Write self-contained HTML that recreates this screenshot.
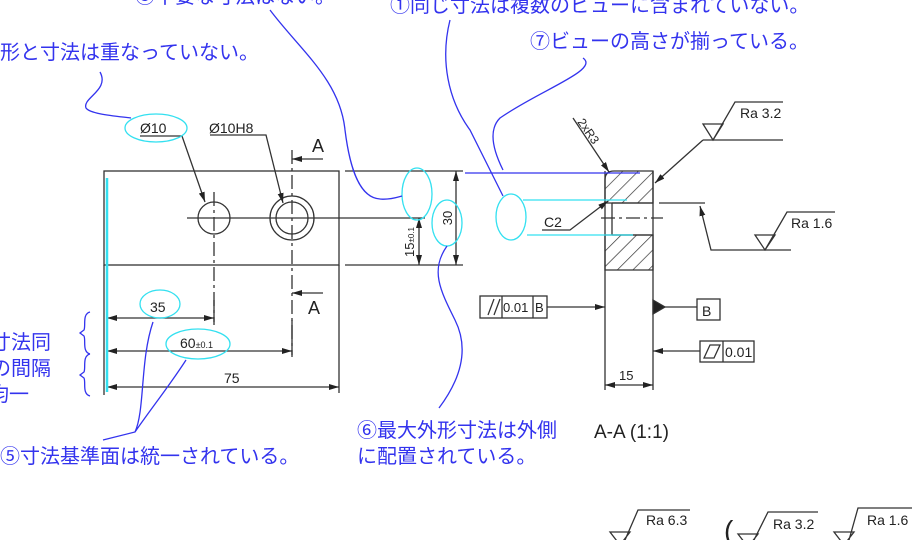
<!DOCTYPE html>
<html><head><meta charset="utf-8"><style>
body{margin:0;background:#fff;}
svg{display:block;}
.b{font-family:"Liberation Sans","Noto Sans CJK JP",sans-serif;fill:#3333ee;font-size:20px;}
.t{font-family:"Liberation Sans",sans-serif;fill:#222;font-size:13px;}
</style></head><body>
<svg width="921" height="540" viewBox="0 0 921 540" xmlns="http://www.w3.org/2000/svg">
<defs>
<marker id="a" markerWidth="10" markerHeight="6" refX="10" refY="3" orient="auto" markerUnits="userSpaceOnUse"><path d="M0,0 L10,3 L0,6z" fill="#222"/></marker>
<pattern id="h" width="11" height="11" patternUnits="userSpaceOnUse" patternTransform="rotate(45)"><line x1="0" y1="0" x2="0" y2="11" stroke="#333" stroke-width="1.4"/></pattern>
</defs>
<g stroke="#333" stroke-width="1.3" fill="none">
<rect x="104" y="171" width="235" height="94"/>
<circle cx="214" cy="218" r="16"/>
<circle cx="292" cy="218" r="22"/><circle cx="292" cy="218" r="16"/>
<line x1="187" y1="218" x2="425" y2="218"/>
<line x1="214" y1="192" x2="214" y2="322" stroke-dasharray="14,4,3,4"/>
<line x1="292" y1="150" x2="292" y2="355" stroke-dasharray="14,4,3,4"/>
<line x1="323" y1="159" x2="292" y2="159" marker-end="url(#a)"/>
<line x1="323" y1="293" x2="292" y2="293" marker-end="url(#a)"/>
<polyline points="140,136 182,136 205,202" marker-end="url(#a)"/>
<polyline points="210,135 266,135 283,203" marker-end="url(#a)"/>
<line x1="345" y1="171" x2="463" y2="171"/><line x1="345" y1="265" x2="463" y2="265"/>
<line x1="456" y1="218" x2="456" y2="171" marker-end="url(#a)"/><line x1="456" y1="218" x2="456" y2="265" marker-end="url(#a)"/>
<line x1="419" y1="240" x2="419" y2="218" marker-end="url(#a)"/><line x1="419" y1="240" x2="419" y2="265" marker-end="url(#a)"/>
<line x1="104" y1="265" x2="104" y2="395"/>
<line x1="214" y1="300" x2="214" y2="325"/>
<line x1="339" y1="265" x2="339" y2="393"/>
<line x1="292" y1="320" x2="292" y2="357"/>
<line x1="160" y1="318" x2="107" y2="318" marker-end="url(#a)"/><line x1="160" y1="318" x2="214" y2="318" marker-end="url(#a)"/>
<line x1="200" y1="351" x2="107" y2="351" marker-end="url(#a)"/><line x1="200" y1="351" x2="292" y2="351" marker-end="url(#a)"/>
<line x1="220" y1="387" x2="107" y2="387" marker-end="url(#a)"/><line x1="220" y1="387" x2="339" y2="387" marker-end="url(#a)"/>
<path d="M605,203 L605,180 Q605,171 614,171 L653,171 L653,203 Z" fill="url(#h)"/>
<path d="M605,235 L653,235 L653,270 L605,270 Z" fill="url(#h)"/>
<line x1="605" y1="171" x2="605" y2="390"/><line x1="653" y1="171" x2="653" y2="390"/>
<line x1="612" y1="203" x2="653" y2="203"/><line x1="612" y1="235" x2="653" y2="235"/>
<line x1="612" y1="203" x2="612" y2="235"/>
<line x1="601" y1="218" x2="663" y2="218" stroke-dasharray="14,4,3,4"/>
<polyline points="542,230 570,230 608,201" marker-end="url(#a)"/>
<line x1="573" y1="118" x2="609" y2="172" marker-end="url(#a)"/>
<polyline points="703,140 783,140"/><line x1="703" y1="140" x2="655" y2="183" marker-end="url(#a)"/>
<path d="M703,124 L723,124 L713,140 Z M713,140 L735,102 L783,102"/>
<line x1="659" y1="203" x2="705" y2="203"/>
<polyline points="791,250 711,250 700,206" marker-end="url(#a)"/>
<path d="M755,235 L775,235 L765,250 Z M765,250 L787,212 L835,212"/>
<rect x="480" y="296" width="67" height="22"/><line x1="502" y1="296" x2="502" y2="318"/><line x1="533" y1="296" x2="533" y2="318"/>
<line x1="488" y1="315" x2="494" y2="299"/><line x1="494" y1="315" x2="500" y2="299"/>
<line x1="547" y1="307" x2="605" y2="307" marker-end="url(#a)"/>
<path d="M653,300 L665,307 L653,314Z" fill="#222"/><line x1="665" y1="307" x2="697" y2="307"/>
<rect x="697" y="299" width="23" height="21"/>
<rect x="700" y="341" width="54" height="21"/><line x1="723" y1="341" x2="723" y2="362"/>
<path d="M704,358 L710,345 L720,345 L714,358Z"/>
<line x1="700" y1="351" x2="653" y2="351" marker-end="url(#a)"/>
<line x1="629" y1="385" x2="605" y2="385" marker-end="url(#a)"/><line x1="629" y1="385" x2="653" y2="385" marker-end="url(#a)"/>
<path d="M610,532 L630,532 L620,545 Z M625,540 L638,510 L690,510"/>
<path d="M738,534 L758,534 L748,547 Z M753,542 L768,512 L818,512"/>
<path d="M834,532 L854,532 L844,545 Z M849,540 L858,508 L912,508"/>
</g>
<g class="t">
<text x="140" y="133" font-size="14">Ø10</text>
<text x="209" y="133" font-size="14">Ø10H8</text>
<text x="312" y="152" font-size="18">A</text>
<text x="308" y="314" font-size="18">A</text>
<text transform="translate(452,218) rotate(-90)" text-anchor="middle">30</text>
<text transform="translate(414,242) rotate(-90)" text-anchor="middle">15<tspan font-size="8">±0.1</tspan></text>
<text x="150" y="312" font-size="14">35</text>
<text x="180" y="348" font-size="14">60<tspan font-size="9">±0.1</tspan></text>
<text x="224" y="383" font-size="14">75</text>
<text x="544" y="227" font-size="14">C2</text>
<text transform="translate(577,122) rotate(55)" font-size="12">2xR3</text>
<text x="740" y="118" font-size="14">Ra 3.2</text>
<text x="791" y="228" font-size="14">Ra 1.6</text>
<text x="503" y="312">0.01</text><text x="535" y="312">B</text>
<text x="702" y="316" font-size="14">B</text>
<text x="725" y="357" font-size="14">0.01</text>
<text x="619" y="380">15</text>
<text x="594" y="438" font-size="19">A-A (1:1)</text>
<text x="646" y="525" font-size="14">Ra 6.3</text>
<text x="773" y="529" font-size="14">Ra 3.2</text>
<text x="867" y="525" font-size="14">Ra 1.6</text>
<text x="724" y="540" font-size="28">(</text>
</g>
<g stroke="#33e0f0" stroke-width="1.3" fill="none">
<line x1="107" y1="178" x2="107" y2="392" stroke-width="2.5"/>
<ellipse cx="156" cy="128" rx="31" ry="14"/>
<ellipse cx="417" cy="194" rx="15" ry="26"/>
<ellipse cx="447" cy="223" rx="15" ry="23"/>
<ellipse cx="511" cy="217" rx="15" ry="23"/>
<ellipse cx="160" cy="304" rx="20" ry="14"/>
<ellipse cx="198" cy="344" rx="32" ry="15"/>
<line x1="523" y1="200" x2="627" y2="200"/><line x1="527" y1="235" x2="633" y2="235"/>
</g>
<g stroke="#3333ee" stroke-width="1.3" fill="none">
<path d="M100,72 C110,90 82,98 86,108 C90,114 115,116 131,118"/>
<path d="M270,10 C300,50 340,80 345,130 C350,170 360,198 380,199 C390,200 398,197 402,196"/>
<path d="M450,20 C440,60 448,100 470,130 C485,160 495,180 503,196"/>
<path d="M583,58 C600,70 540,90 500,118 C488,130 493,150 503,170"/>
<line x1="465" y1="173" x2="640" y2="173"/>
<path d="M439,408 C460,380 470,350 455,320 C440,290 430,270 447,246"/>
<path d="M103,440 L135,432 C145,410 140,360 153,322 M135,432 C150,410 170,385 186,360"/>
<path d="M90,312 C82,314 86,326 84,330 L80,333 L84,336 C86,340 82,352 90,354 M90,354 C82,356 86,368 84,372 L80,375 L84,378 C86,382 82,394 90,396"/>
</g>
<g class="b">
<text x="0" y="59">形と寸法は重なっていない。</text>
<text x="135" y="3">③不要な寸法はない。</text>
<text x="390" y="12">①同じ寸法は複数のビューに含まれていない。</text>
<text x="530" y="48">⑦ビューの高さが揃っている。</text>
<text x="51" y="349" text-anchor="end">⑧寸法同</text>
<text x="51" y="375" text-anchor="end">士の間隔</text>
<text x="29" y="401" text-anchor="end">は均一</text>
<text x="0" y="463">⑤寸法基準面は統一されている。</text>
<text x="357" y="437">⑥最大外形寸法は外側</text>
<text x="357" y="463">に配置されている。</text>
</g>
</svg>
</body></html>
